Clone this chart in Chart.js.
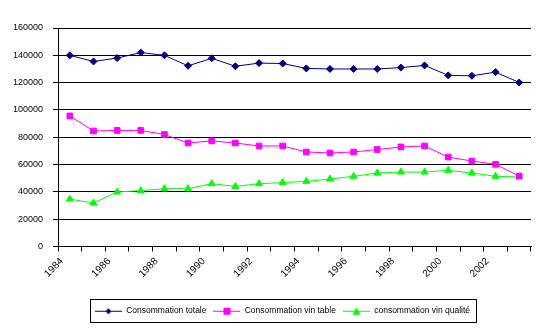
<!DOCTYPE html>
<html>
<head>
<meta charset="utf-8">
<script src="https://cdn.jsdelivr.net/npm/chart.js@4/dist/chart.umd.min.js"></script>
<style>
  html, body { margin: 0; padding: 0; background: #fff; }
  #wrap { width: 546px; height: 330px; }
</style>
</head>
<body>
<div id="wrap"><canvas id="wineChart"></canvas></div>
<script>
const years = ['1984', '1985', '1986', '1987', '1988', '1989', '1990', '1991', '1992', '1993',
               '1994', '1995', '1996', '1997', '1998', '1999', '2000', '2001', '2002', '2003'];
const consoTotale = [140000, 135500, 138000, 142000, 140000, 132300, 137800, 132000, 134300, 134000,
                     130400, 130000, 130000, 130000, 131000, 132600, 125300, 125000, 127700, 120100];
const consoVinTable = [95600, 84600, 85000, 85000, 82000, 75800, 77300, 75800, 73600, 73600,
                       69200, 68500, 69200, 71000, 72900, 73600, 65500, 62600, 60200, 51600];
const consoVinQualite = [34700, 31800, 39900, 40900, 42300, 42300, 46000, 44000, 46000, 46800,
                         47700, 49400, 51400, 53800, 54500, 54500, 55800, 53800, 51400, 50900];
const yTicks = [0, 20000, 40000, 60000, 80000, 100000, 120000, 140000, 160000];

const FONT = 'Liberation Sans, Arial, sans-serif';

// small legend icon: a line with the marker in the middle
function legendIcon(color, shape) {
    const c = document.createElement('canvas');
    c.width = 27;
    c.height = 10;
    const g = c.getContext('2d');
    g.strokeStyle = color;
    g.fillStyle = color;
    g.lineWidth = 1;
    g.beginPath();
    g.moveTo(0, 5.5);
    g.lineTo(27, 5.5);
    g.stroke();
    g.beginPath();
    if (shape === 'diamond') {
        g.moveTo(13.5, 2.5); g.lineTo(16.5, 5.5); g.lineTo(13.5, 8.5); g.lineTo(10.5, 5.5);
    } else if (shape === 'square') {
        g.rect(10, 2, 7, 7);
    } else {
        g.moveTo(13.5, 1.5); g.lineTo(17.5, 9); g.lineTo(9.5, 9);
    }
    g.closePath();
    g.fill();
    return c;
}

const icons = [
    legendIcon('#000080', 'diamond'),
    legendIcon('#ff00ff', 'square'),
    legendIcon('#00ff00', 'triangle')
];

const LEGEND_SHIFT = 10;

const legendBorder = {
    id: 'legendBorder',
    afterLayout(chart) {
        chart.legend.left += LEGEND_SHIFT;
        chart.legend.right += LEGEND_SHIFT;
    },
    afterDraw(chart) {
        const l = chart.legend;
        const boxes = l.legendHitBoxes;
        if (!boxes || !boxes.length) return;
        const first = boxes[0];
        const last = boxes[boxes.length - 1];
        const x0 = Math.round(first.left) - 5;
        const x1 = Math.round(last.left + last.width) + 6;
        const cy = first.top + first.height / 2;
        const y0 = Math.round(cy - 12);
        const y1 = Math.round(cy + 11);
        const ctx = chart.ctx;
        ctx.save();
        ctx.strokeStyle = '#000';
        ctx.lineWidth = 1;
        ctx.strokeRect(x0 + 0.5, y0 + 0.5, x1 - x0, y1 - y0);
        ctx.restore();
    }
};

const ctx = document.getElementById('wineChart').getContext('2d');
const chart = new Chart(ctx, {
    type: 'line',
    data: {
        labels: years,
        datasets: [{
            label: 'Consommation totale',
            data: consoTotale,
            borderColor: '#000080',
            backgroundColor: '#000080',
            borderWidth: 1,
            pointStyle: 'rectRot',
            pointRadius: 3.5,
            pointBorderWidth: 1
        }, {
            label: 'Consommation vin table',
            data: consoVinTable,
            borderColor: '#ff00ff',
            backgroundColor: '#ff00ff',
            borderWidth: 1,
            pointStyle: 'rect',
            pointRadius: 4,
            pointBorderWidth: 1
        }, {
            label: 'consommation vin qualité',
            data: consoVinQualite,
            borderColor: '#00ff00',
            backgroundColor: '#00ff00',
            borderWidth: 1,
            pointStyle: 'triangle',
            pointRadius: 4,
            pointBorderWidth: 1
        }]
    },
    options: {
        responsive: true,
        maintainAspectRatio: false,
        animation: false,
        layout: {
            padding: { top: 28, left: 14, right: 15, bottom: 5 }
        },
        scales: {
            x: {
                offset: true,
                afterFit: axis => {
                    axis.height = 53;
                    axis.paddingLeft = 0;
                    axis.paddingRight = 0;
                },
                grid: {
                    offset: true,
                    drawOnChartArea: false,
                    color: '#000',
                    tickLength: 5
                },
                border: { color: '#000' },
                ticks: {
                    autoSkip: false,
                    maxRotation: 45,
                    minRotation: 45,
                    labelOffset: -8,
                    padding: 4,
                    color: '#000',
                    font: { family: FONT, size: 10 },
                    callback: function (val, idx) {
                        return idx % 2 === 0 ? this.getLabelForValue(val) : '';
                    }
                }
            },
            y: {
                min: 0,
                max: 160000,
                afterBuildTicks: axis => {
                    axis.ticks = yTicks.map(v => ({ value: v }));
                },
                afterFit: axis => { axis.width = 44; },
                grid: {
                    color: '#000',
                    tickLength: 5
                },
                border: { color: '#000' },
                ticks: {
                    color: '#000',
                    padding: 10,
                    font: { family: FONT, size: 9 },
                    callback: v => String(v)
                }
            }
        },
        plugins: {
            legend: {
                position: 'bottom',
                labels: {
                    usePointStyle: true,
                    pointStyleWidth: 27,
                    boxHeight: 8.5,
                    padding: 7,
                    color: '#000',
                    font: { family: FONT, size: 8.5 },
                    generateLabels: c => c.data.datasets.map((ds, i) => ({
                        text: ds.label,
                        pointStyle: icons[i],
                        fillStyle: ds.borderColor,
                        strokeStyle: ds.borderColor,
                        lineWidth: 0,
                        hidden: false,
                        datasetIndex: i
                    }))
                }
            },
            tooltip: { enabled: false }
        }
    },
    plugins: [legendBorder]
});
</script>
</body>
</html>
